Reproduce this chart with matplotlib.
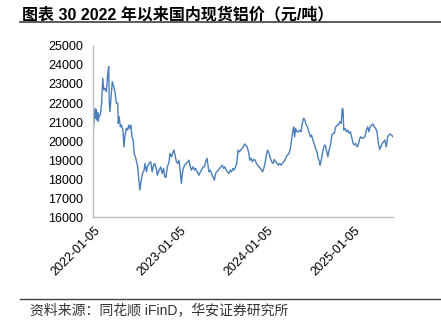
import matplotlib
matplotlib.use('Agg')
import matplotlib.pyplot as plt
import matplotlib.dates as mdates
import matplotlib.transforms as mtransforms
from matplotlib.lines import Line2D
import numpy as np
import pandas as pd

plt.rcParams['font.family'] = ['Liberation Sans', 'Noto Sans CJK SC']

# 现货铝价（元/吨），day = 距 2022-01-05 的天数
start = pd.Timestamp('2022-01-05')
day = [0, 8, 11, 14, 17, 20, 22, 25, 31, 36, 41, 45, 50, 56, 62, 66, 68, 71, 76, 81,
       87, 92, 98, 104, 106, 110, 115, 120, 126, 130, 134, 140, 146, 150, 155, 159, 164, 169, 173, 180,
       188, 192, 197, 201, 208, 215, 219, 225, 229, 236, 243, 249, 255, 260, 266, 271, 278, 285, 291, 297,
       302, 307, 313, 320, 324, 331, 337, 341, 345, 351, 357, 362, 366, 372, 376, 380, 386, 393, 399, 404,
       408, 414, 421, 427, 432, 439, 446, 452, 457, 463, 469, 474, 480, 484, 488, 494, 499, 505, 511, 516,
       521, 527, 533, 538, 544, 550, 555, 561, 566, 572, 578, 583, 589, 594, 600, 605, 611, 617, 622, 628,
       633, 639, 649, 656, 660, 666, 671, 677, 683, 688, 693, 699, 705, 710, 714, 719, 724, 730, 735, 741,
       747, 752, 758, 763, 769, 775, 780, 786, 792, 797, 803, 808, 814, 819, 825, 831, 836, 842, 845, 849,
       853, 859, 864, 870, 876, 881, 887, 892, 898, 903, 909, 915, 920, 926, 931, 937, 943, 948, 954, 956,
       961, 966, 972, 977, 983, 989, 994, 1000, 1006, 1011, 1016, 1022, 1028, 1033, 1039, 1045, 1050, 1053, 1056, 1061,
       1067, 1073, 1078, 1084, 1089, 1095, 1100, 1106, 1112, 1117, 1123, 1128, 1134, 1140, 1145, 1151, 1157, 1162, 1167, 1173,
       1179, 1184, 1190, 1196, 1201, 1207, 1212, 1218, 1224, 1229, 1235, 1241, 1246, 1251, 1257, 1263]
price = [20320, 21720, 21200, 21650, 21100, 21500, 21050, 21300, 21400, 21990, 23300, 22690, 22770, 22600, 23560, 23910, 22160, 21540, 22330, 23120,
         22860, 22600, 21990, 21990, 20930, 21280, 20750, 20840, 20580, 19700, 20230, 20670, 20580, 20840, 20670, 20840, 20230, 20060, 19360, 19100,
         18650, 18130, 17430, 17780, 18300, 18480, 18830, 18390, 18650, 18830, 18920, 18390, 18740, 18830, 18570, 18210, 18480, 18650, 18300, 18570,
         18130, 18100, 18650, 18900, 19360, 19180, 19440, 19530, 19270, 18920, 18830, 19000, 18570, 17780, 18300, 18570, 18740, 18830, 18920, 19000,
         18740, 18480, 18650, 18480, 18570, 18390, 18210, 18390, 18480, 18650, 18650, 18920, 19100, 18740, 18390, 18480, 18300, 18130, 17950, 18300,
         18390, 18480, 18570, 18650, 18740, 18570, 18650, 18480, 18390, 18300, 18480, 18390, 18570, 18480, 18650, 18830, 19530, 19440, 19530, 19620,
         19700, 19850, 19700, 19360, 19000, 19100, 18920, 19040, 19000, 18830, 18740, 18650, 18570, 18480, 18390, 18570, 18830, 19270, 19530, 19360,
         19100, 18920, 18830, 19040, 18920, 18830, 18740, 18830, 18740, 18830, 18920, 19000, 19180, 19270, 19360, 19620, 20060, 20580, 20750, 20230,
         20670, 20490, 20490, 20580, 20490, 20930, 21200, 21110, 20840, 20750, 20490, 20230, 20320, 20060, 19880, 19620, 19440, 19100, 18920, 18740,
         19000, 19360, 19700, 19800, 19530, 19180, 19530, 19800, 20320, 20410, 20410, 20750, 20840, 20840, 21020, 20930, 21720, 21630, 20580, 20670,
         20490, 20580, 20410, 20490, 20230, 19880, 19800, 19880, 19700, 19800, 20140, 20230, 20140, 20190, 20230, 20580, 20750, 20490, 20750, 20840,
         20900, 20750, 20670, 20490, 19970, 19570, 19700, 19880, 19970, 20060, 19700, 20230, 20320, 20370, 20320, 20230]
tick_dates = ['2022-01-05', '2023-01-05', '2024-01-05', '2025-01-05']

dates = start + pd.to_timedelta(day, unit='D')

fig = plt.figure(figsize=(4.41, 3.23), dpi=100)
ax = fig.add_axes([0.211, 0.327, 0.68, 0.531])
ax.plot(dates, price, color='#4A7EBB', lw=1.0)

ax.set_ylim(16000, 25000)
ax.set_yticks(np.arange(16000, 25001, 1000))
ax.set_xlim(dates[0], dates[-1])
ax.set_xticks(pd.to_datetime(tick_dates))
ax.xaxis.set_major_formatter(mdates.DateFormatter('%Y-%m-%d'))

for s in ['top', 'right']:
    ax.spines[s].set_visible(False)
for s in ['left', 'bottom']:
    ax.spines[s].set_color('#BFBFBF')
    ax.spines[s].set_linewidth(1.0)
ax.tick_params(axis='y', length=0, pad=7, labelsize=9, colors='#000000')
ax.tick_params(axis='x', length=0, pad=8, labelsize=9, colors='#000000')
shift = mtransforms.ScaledTranslation(5 / 100, 0, fig.dpi_scale_trans)
for lab in ax.get_xticklabels():
    lab.set_rotation(45)
    lab.set_ha('right')
    lab.set_va('center')
    lab.set_rotation_mode('anchor')
    lab.set_transform(lab.get_transform() + shift)

fig.text(0.05, 0.955, '图表 30 2022 年以来国内现货铝价（元/吨）', fontsize=11.5,
         fontweight='bold', va='center', ha='left')
fig.add_artist(Line2D([0.045, 1.0], [0.932, 0.932], color='#404040', lw=1.2))
fig.add_artist(Line2D([0.045, 1.0], [0.075, 0.075], color='#404040', lw=1.0))
fig.text(0.068, 0.04, '资料来源：同花顺 iFinD，华安证券研究所', fontsize=10,
         color='#333333', va='center', ha='left')

fig.savefig('out.png', dpi=100)
